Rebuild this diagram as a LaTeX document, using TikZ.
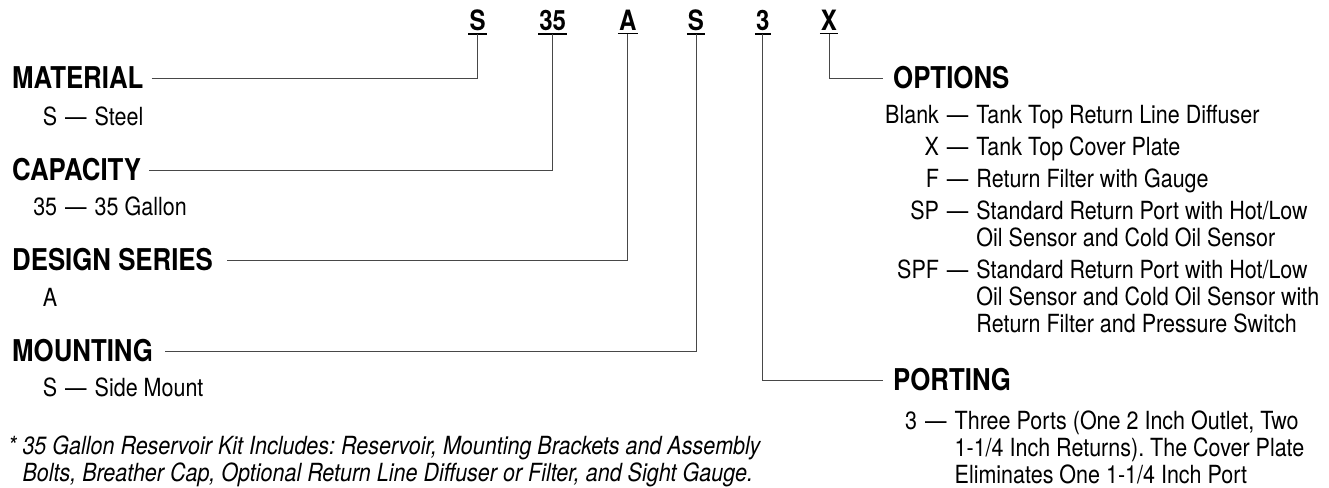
\documentclass[tikz,border=0pt]{standalone}
\usepackage{fontspec}
\setmainfont{TeX Gyre Heros}[FakeStretch=0.86]
\usepackage{tikz}
\frenchspacing

\newcommand{\keysep}{\hspace{8pt}—\kern8pt}
\newcommand{\keyw}[1]{\makebox[24pt][r]{#1}}

\tikzset{
	code/.style={font=\fontsize{28}{30}\selectfont\bfseries, inner xsep=1pt, inner ysep=2.5pt, anchor=base},
	head/.style={font=\fontsize{30}{32}\selectfont\bfseries, inner sep=0pt, anchor=west},
	desc/.style={font=\fontsize{25}{27}\selectfont, inner sep=0pt, anchor=base west},
	link/.style={draw=black!72, line width=1pt},
}

\begin{document}
\begin{tikzpicture}[x=1pt,y=-1pt]
	\useasboundingbox (0,0) rectangle (1329,487);

	\node[code] (cMat) at (477.7, 31) {S};
	\node[code] (cCap) at (552.7, 31) {35};
	\node[code] (cSer) at (627.7, 31) {A};
	\node[code] (cMnt) at (696, 31)   {S};
	\node[code] (cPrt) at (762.7, 31) {3};
	\node[code] (cOpt) at (829, 31)   {X};
	\foreach \c in {cMat,cCap,cSer,cMnt,cPrt,cOpt}
		\draw[line width=1.3pt] (\c.south west) -- (\c.south east);

	\node[head] (mat) at (12, 78)  {MATERIAL};
	\node[head] (cap) at (12, 170) {CAPACITY};
	\node[head] (ser) at (12, 260) {DESIGN SERIES};
	\node[head] (mnt) at (12, 351) {MOUNTING};
	\node[head] (opt) at (893, 78) {OPTIONS};
	\node[head] (prt) at (893, 380) {PORTING};

	\node[desc] (matS) at (33, 125) {\keyw{S}\keysep Steel};
	\node[desc] (cap35) at (33, 215) {\keyw{35}\keysep 35 Gallon};
	\node[desc] (serA) at (33, 306) {\keyw{A}};
	\node[desc] (mntS) at (33, 396) {\keyw{S}\keysep Side Mount};

	\node[desc] (optlist) at (885, 123) {\begin{tabular}[t]{@{}r@{}l@{}}
		Blank\keysep & Tank Top Return Line Diffuser\\[5pt]
		X\keysep & Tank Top Cover Plate\\[5pt]
		F\keysep & Return Filter with Gauge\\[5pt]
		SP\keysep & Standard Return Port with Hot/Low\\
		& Oil Sensor and Cold Oil Sensor\\[5pt]
		SPF\keysep & Standard Return Port with Hot/Low\\
		& Oil Sensor and Cold Oil Sensor with\\
		& Return Filter and Pressure Switch
	\end{tabular}};
	\node[desc] (prtlist) at (905, 429) {\begin{tabular}[t]{@{}r@{}l@{}}
		3\keysep & Three Ports (One 2 Inch Outlet, Two\\
		& 1-1/4 Inch Returns). The Cover Plate\\
		& Eliminates One 1-1/4 Inch Port
	\end{tabular}};

	\node[desc, font=\fontsize{25}{27}\selectfont\itshape] (note) at (8, 454) {\begin{tabular}[t]{@{}l@{\ }l@{}}
		* & 35 Gallon Reservoir Kit Includes: Reservoir, Mounting Brackets and Assembly\\
		& Bolts, Breather Cap, Optional Return Line Diffuser or Filter, and Sight Gauge.
	\end{tabular}};

	\draw[link] ([xshift=8pt]mat.east) -| (cMat.south);
	\draw[link] ([xshift=8pt]cap.east) -| (cCap.south);
	\draw[link] ([xshift=14pt]ser.east) -| (cSer.south);
	\draw[link] ([xshift=12pt]mnt.east) -| (cMnt.south);
	\draw[link] (cOpt.south) |- ([xshift=-10pt]opt.west);
	\draw[link] (cPrt.south) |- ([xshift=-10pt]prt.west);
\end{tikzpicture}
\end{document}
